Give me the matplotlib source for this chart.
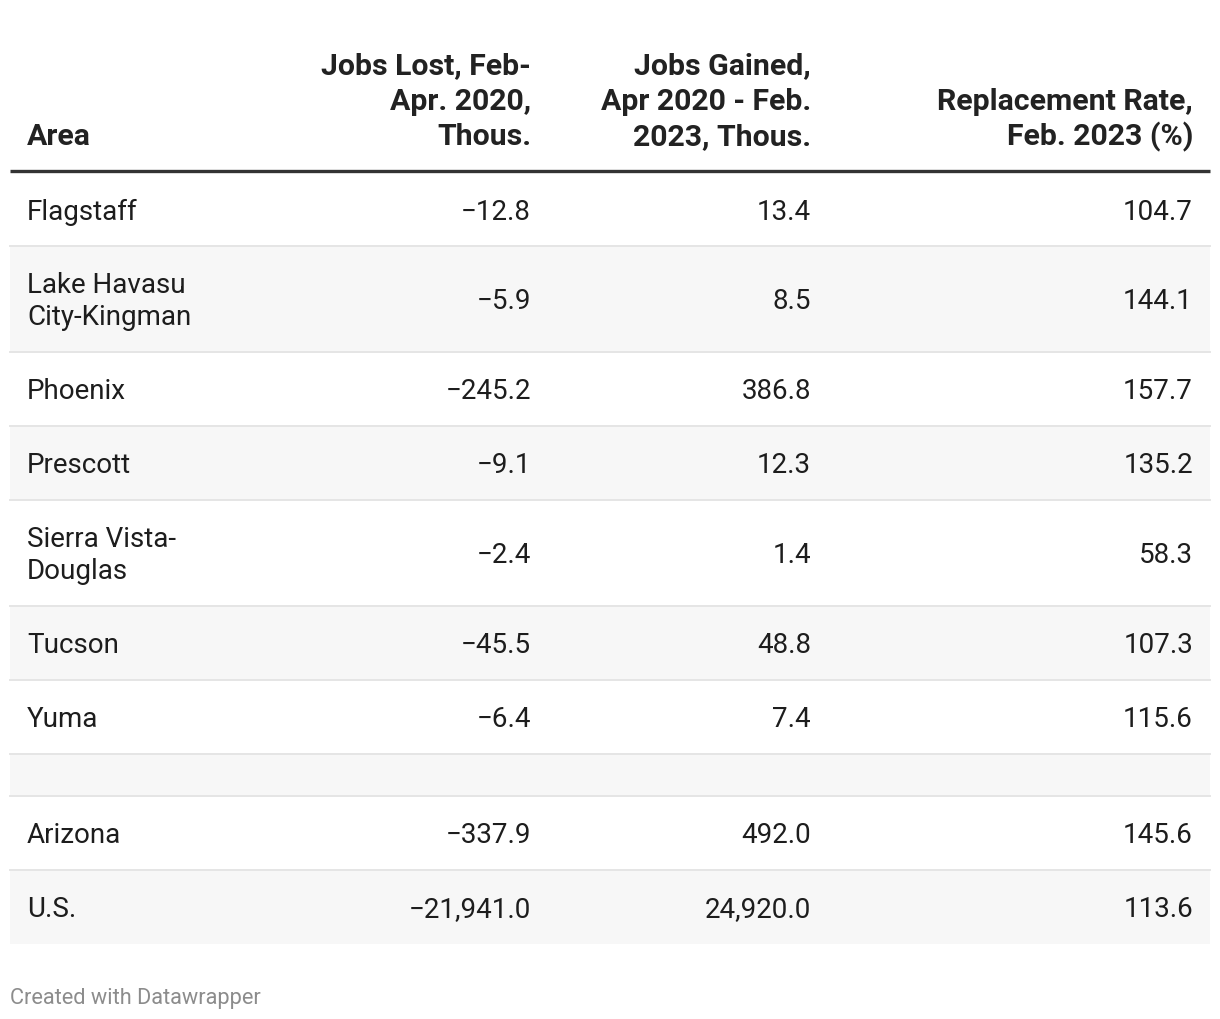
import matplotlib.pyplot as plt
from matplotlib.patches import Rectangle

plt.rcParams['font.family'] = ['Roboto', 'DejaVu Sans']

# Datos de la tabla
areas = ["Flagstaff", "Lake Havasu\nCity-Kingman", "Phoenix", "Prescott",
         "Sierra Vista-\nDouglas", "Tucson", "Yuma", "", "Arizona", "U.S."]
jobs_lost = [-12.8, -5.9, -245.2, -9.1, -2.4, -45.5, -6.4, None, -337.9, -21941.0]
jobs_gained = [13.4, 8.5, 386.8, 12.3, 1.4, 48.8, 7.4, None, 492.0, 24920.0]
replacement = [104.7, 144.1, 157.7, 135.2, 58.3, 107.3, 115.6, None, 145.6, 113.6]

headers = ["Area", "Jobs Lost, Feb-\nApr. 2020,\nThous.",
           "Jobs Gained,\nApr 2020 - Feb.\n2023, Thous.",
           "Replacement Rate,\nFeb. 2023 (%)"]


def fmt(v):
    if v is None:
        return ""
    s = f"{abs(v):,.1f}"
    return ("\u2212" + s) if v < 0 else s


W, H = 1220, 1020
fig = plt.figure(figsize=(W / 100, H / 100), dpi=100, facecolor='w')
ax = fig.add_axes([0, 0, 1, 1])
ax.set_xlim(0, W)
ax.set_ylim(H, 0)
ax.axis('off')

left, right = 10, 1210
col_x = [27, 531, 811, 1193]
col_ha = ['left', 'right', 'right', 'right']
fs_body = 20
fs_head = 21.8
txt_color = '#1d1d1d'

# Encabezado: alineado por abajo
head_base = 145
head_step = 35.5
for x, ha, h in zip(col_x, col_ha, headers):
    lines = h.split("\n")
    n = len(lines)
    for i, ln in enumerate(lines):
        y = head_base - (n - 1 - i) * head_step
        ax.text(x, y, ln, ha=ha, va='baseline', fontsize=fs_head,
                fontweight='bold', color='#222222')

ax.plot([left, right], [171.5, 171.5], color='#333333', lw=2.4,
        solid_capstyle='butt')

# Filas
y0 = 173
line_step = 32
for k, name in enumerate(areas):
    if name == "":
        hgt = 42
    else:
        nl = name.count("\n") + 1
        hgt = 74 + (nl - 1) * line_step
    bg = '#f7f7f7' if k % 2 == 1 else 'white'
    ax.add_patch(Rectangle((left, y0), right - left, hgt, facecolor=bg,
                           edgecolor='none', zorder=0))
    yc = y0 + hgt / 2
    if name:
        lines = name.split("\n")
        n = len(lines)
        for i, ln in enumerate(lines):
            yy = yc + (i - (n - 1) / 2) * line_step + 9.5
            ax.text(col_x[0], yy, ln, ha='left', va='baseline',
                    fontsize=fs_body, color=txt_color)
    for x, vals in zip(col_x[1:], [jobs_lost, jobs_gained, replacement]):
        ax.text(x, yc + 9.5, fmt(vals[k]), ha='right', va='baseline',
                fontsize=fs_body, color=txt_color)
    y0 += hgt
    if k < len(areas) - 1:
        ax.plot([left, right], [y0, y0], color='#e5e5e5', lw=1.4, zorder=1)

ax.text(10, 1004, "Created with Datawrapper", ha='left', va='baseline',
        fontsize=15.7, color='#8c8c8c')

fig.savefig("out.png", dpi=100, facecolor='w')
plt.close(fig)
